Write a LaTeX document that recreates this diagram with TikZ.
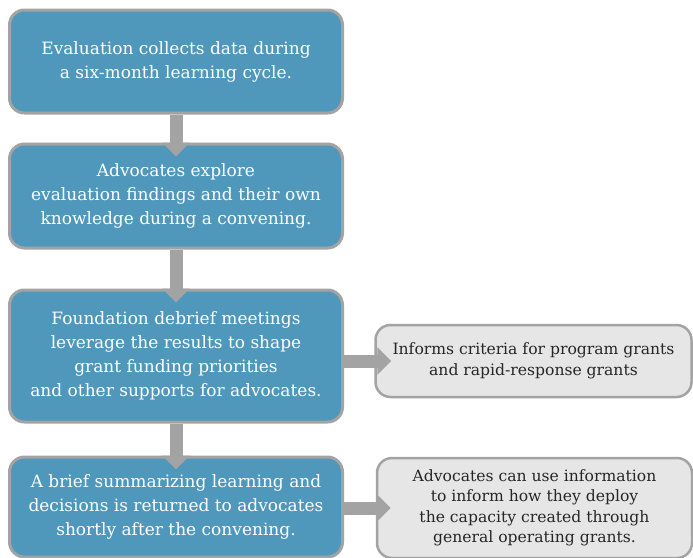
\documentclass[tikz,border=0pt]{standalone}
\usepackage{fontspec}
\setmainfont{DejaVu Serif}
\usetikzlibrary{arrows.meta,positioning}
\definecolor{stepblue}{HTML}{4F98BC}
\definecolor{edgegray}{HTML}{A3A3A3}
\definecolor{notegray}{HTML}{E6E6E6}
\tikzset{every stepbox/.style={rounded corners=15pt, draw=edgegray, line width=3pt,
                               fill=stepblue, text=white, align=center},
        every notebox/.style={rounded corners=15pt, draw=edgegray, line width=2.5pt,
                               fill=notegray, text=black!85, align=center,
                               font=\fontsize{15.6}{20.5}\selectfont},
        flow/.style={draw=edgegray, line width=13pt,
                     -{Triangle[width=27pt,length=14pt]}},
        }
\begin{document}
\begin{tikzpicture}[x=1pt,y=1pt,font=\fontsize{17}{24}\selectfont]
    \useasboundingbox (0,0) rectangle (693,-557);

    % main steps
    \node[every stepbox, minimum width=333pt, minimum height=103pt] (collect) at (176,-61.5)
        {Evaluation collects data during\\a six-month learning cycle.};
    \node[every stepbox, minimum width=333pt, minimum height=104pt] (explore) at (176,-196)
        {Advocates explore\\evaluation findings and their own\\knowledge during a convening.};
    \node[every stepbox, minimum width=333pt, minimum height=132pt] (debrief) at (176,-356)
        {Foundation debrief meetings\\leverage the results to shape\\grant funding priorities\\and other supports for advocates.};
    \node[every stepbox, minimum width=333pt, minimum height=100pt] (brief) at (176,-507)
        {A brief summarizing learning and\\decisions is returned to advocates\\shortly after the convening.};

    % side notes
    \node[every notebox, minimum width=316pt, minimum height=72pt] (criteria) at (533.5,-361)
        {Informs criteria for program grants\\and rapid-response grants};
    \node[every notebox, minimum width=315pt, minimum height=100pt] (capacity) at (534.5,-508)
        {Advocates can use information\\to inform how they deploy\\the capacity created through\\general operating grants.};

    % connectors
    \draw[flow] (collect.south) -- ([yshift=-14pt]explore.north);
    \draw[flow] (explore.south) -- ([yshift=-14pt]debrief.north);
    \draw[flow] (debrief.south) -- ([yshift=-14pt]brief.north);
    \draw[flow] (debrief.east |- criteria.west) -- ([xshift=17pt]criteria.west);
    \draw[flow] (brief.east |- capacity.west) -- ([xshift=15pt]capacity.west);
\end{tikzpicture}
\end{document}
